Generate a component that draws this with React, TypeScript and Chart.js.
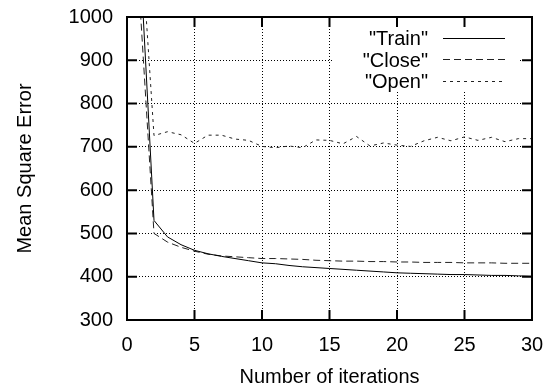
import React, { useEffect, useRef } from 'react';
import { Chart, registerables } from 'chart.js';

Chart.register(...registerables);

const iterations = [1, 2, 3, 4, 5, 6, 7, 8, 9, 10, 11, 12, 13, 14, 15, 16, 17, 18, 19, 20, 21, 22, 23, 24, 25, 26, 27, 28, 29, 30];
const trainValues = [1120, 530, 492, 474, 461, 453, 447, 442, 437, 432, 430, 426, 423, 421, 419, 417, 415, 413, 411, 409, 408, 407, 406, 405, 405, 404, 403, 403, 402, 401];
const closeValues = [1010, 500, 480, 468, 459, 452, 448, 446, 444, 442, 442, 441, 440, 438, 437, 436, 436, 435, 435, 434, 434, 433, 433, 433, 432, 432, 432, 431, 431, 431];
const openValues = [1200, 726, 735, 728, 708, 727, 727, 718, 715, 701, 698, 702, 698, 716, 715, 707, 724, 702, 709, 704, 701, 714, 722, 714, 723, 715, 722, 712, 719, 719];
const seriesLabels = ['"Train"', '"Close"', '"Open"'];
const xTicks = [0, 5, 10, 15, 20, 25, 30];
const yTicks = [300, 400, 500, 600, 700, 800, 900, 1000];

const FONT = '"Liberation Sans", Arial, sans-serif';

const legendPlugin = {
  id: 'gnuLegend',
  beforeDatasetsDraw(chart: any) {
    const ctx = chart.ctx;
    ctx.save();
    ctx.fillStyle = '#fff';
    ctx.fillRect(333, 18, 185, 74);
    ctx.font = `20px ${FONT}`;
    ctx.textAlign = 'right';
    ctx.textBaseline = 'middle';
    const rows = [39, 60.5, 82];
    chart.data.datasets.forEach((ds: any, i: number) => {
      const y = rows[i];
      ctx.fillStyle = '#000';
      ctx.fillText(ds.label, 428, y + 0.5);
      ctx.beginPath();
      ctx.strokeStyle = ds.borderColor;
      ctx.lineWidth = ds.borderWidth;
      ctx.setLineDash(ds.borderDash || []);
      const ly = Math.round(y - 1.5) + 0.5;
      ctx.moveTo(443, ly);
      ctx.lineTo(505, ly);
      ctx.stroke();
    });
    ctx.restore();
  },
};

const framePlugin = {
  id: 'gnuFrame',
  afterDatasetsDraw(chart: any) {
    const ctx = chart.ctx;
    const { left, right, top, bottom } = chart.chartArea;
    const xs = chart.scales.x;
    const ys = chart.scales.y;
    ctx.save();
    ctx.strokeStyle = '#000';
    ctx.lineWidth = 2;
    ctx.setLineDash([]);
    const tl = 10;
    ctx.beginPath();
    xTicks.forEach((v) => {
      const px = xs.getPixelForValue(v);
      ctx.moveTo(px, bottom);
      ctx.lineTo(px, bottom - tl);
      ctx.moveTo(px, top);
      ctx.lineTo(px, top + tl);
    });
    yTicks.forEach((v) => {
      const py = ys.getPixelForValue(v);
      ctx.moveTo(left, py);
      ctx.lineTo(left + tl, py);
      ctx.moveTo(right, py);
      ctx.lineTo(right - tl, py);
    });
    ctx.stroke();
    ctx.strokeRect(left, top, right - left, bottom - top);
    ctx.restore();
  },
};

export default function App() {
  const ref = useRef<HTMLCanvasElement>(null);
  useEffect(() => {
    if (!ref.current) return;
    const mk = (vals: number[]) => iterations.map((x, i) => ({ x, y: vals[i] }));
    const chart = new Chart(ref.current, {
      type: 'line',
      data: {
        datasets: [
          { label: seriesLabels[0], data: mk(trainValues), borderColor: '#000', borderWidth: 1, borderDash: [], pointRadius: 0, fill: false, tension: 0 },
          { label: seriesLabels[1], data: mk(closeValues), borderColor: '#222', borderWidth: 1, borderDash: [7, 4], pointRadius: 0, fill: false, tension: 0 },
          { label: seriesLabels[2], data: mk(openValues), borderColor: '#222', borderWidth: 1, borderDash: [3, 4], pointRadius: 0, fill: false, tension: 0 },
        ],
      },
      options: {
        animation: false,
        responsive: false,
        maintainAspectRatio: false,
        layout: { padding: { left: 0, top: 17, right: 21, bottom: 0 } },
        plugins: { legend: { display: false }, tooltip: { enabled: false } },
        scales: {
          x: {
            type: 'linear',
            min: 0,
            max: 30,
            afterFit: (s: any) => { s.height = 67; s.paddingLeft = 0; s.paddingRight = 0; },
            afterBuildTicks: (s: any) => { s.ticks = xTicks.map((v) => ({ value: v })); },
            ticks: { color: '#000', font: { family: FONT, size: 20 }, padding: 13, maxRotation: 0, autoSkip: false, callback: (v: any) => String(v) },
            grid: { drawTicks: false, color: '#000', lineWidth: 1 },
            border: { display: false, dash: [1, 2] },
            title: { display: true, text: 'Number of iterations', color: '#000', font: { family: FONT, size: 20, lineHeight: 1 }, padding: { top: 0, bottom: 0 } },
          },
          y: {
            type: 'linear',
            min: 300,
            max: 1000,
            afterFit: (s: any) => { s.width = 127; s.paddingTop = 0; s.paddingBottom = 0; },
            afterBuildTicks: (s: any) => { s.ticks = yTicks.map((v) => ({ value: v })); },
            ticks: { color: '#000', font: { family: FONT, size: 20 }, padding: 14, autoSkip: false, callback: (v: any) => String(v) },
            grid: { drawTicks: false, color: '#000', lineWidth: 1 },
            border: { display: false, dash: [1, 2] },
            title: { display: true, text: 'Mean Square Error', color: '#000', font: { family: FONT, size: 20, lineHeight: 1 }, padding: { top: 15.5, bottom: 0 } },
          },
        },
      },
      plugins: [legendPlugin, framePlugin],
    });
    return () => chart.destroy();
  }, []);
  return (
    <div style={{ position: 'fixed', left: 0, top: 0, width: 553, height: 387, background: '#fff' }}>
      <canvas ref={ref} width={553} height={387} style={{ display: 'block', width: 553, height: 387 }} />
    </div>
  );
}
